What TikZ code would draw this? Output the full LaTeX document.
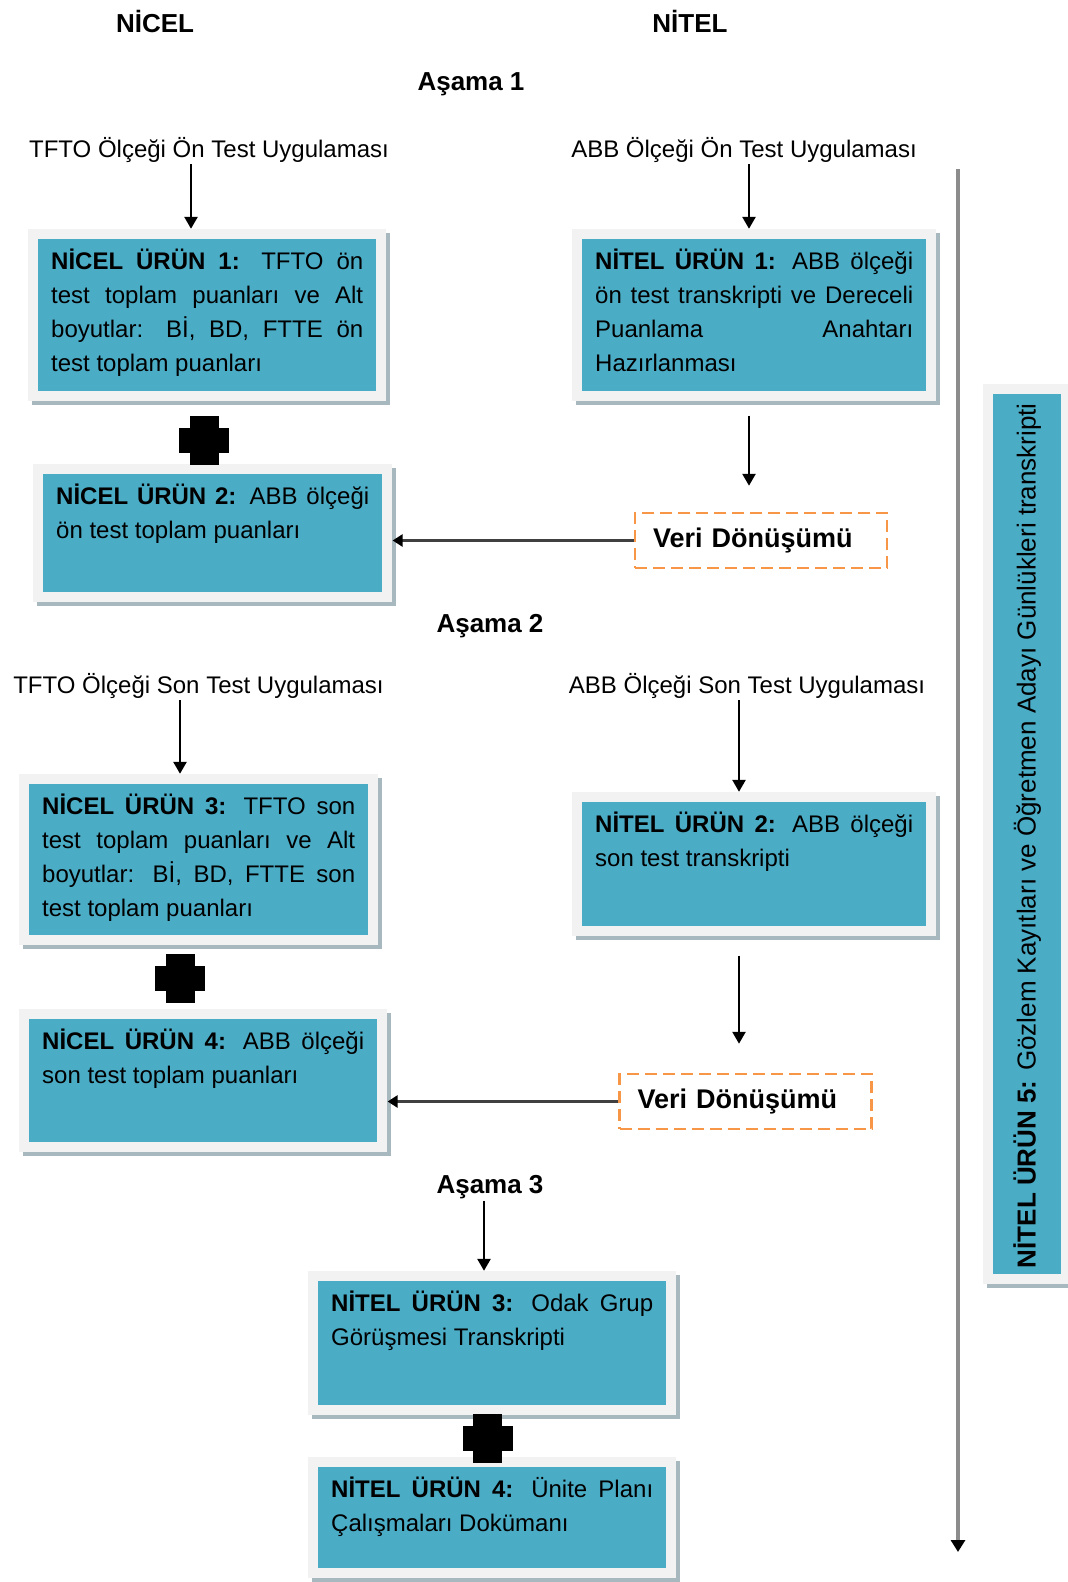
\documentclass[tikz,border=0pt]{standalone}
\usepackage{fontspec}
\usepackage{graphicx}
\setmainfont{Liberation Sans}
\usetikzlibrary{arrows.meta,backgrounds,fit,shadows}

\definecolor{boxteal}{HTML}{4BACC6}
\definecolor{boxframe}{HTML}{F2F2F2}
\definecolor{boxshadow}{HTML}{A7B9BF}
\definecolor{dashorange}{HTML}{F79646}
\definecolor{sidegray}{HTML}{8C8C8C}

% one justified line inside a product box
\newcommand\jl[1]{\makebox[\linewidth][s]{#1}\\}
% text block of a product box: width, height, lines
\newcommand\prodtext[3]{\parbox[t][#2][t]{#1}{\rule{0pt}{30pt}#3}}

\tikzset{
  prod/.style={fill=boxteal, inner xsep=13pt, inner ysep=0pt, anchor=north west,
    font=\fontsize{24}{34}\selectfont},
  prodframe/.style={fill=boxframe, inner sep=10pt,
    drop shadow={shadow xshift=4pt, shadow yshift=-4pt, fill=boxshadow, opacity=1}},
  lbl/.style={font=\fontsize{24}{28}\selectfont, inner sep=2pt, anchor=base},
  hdr/.style={font=\bfseries\fontsize{26}{30}\selectfont, inner sep=2pt, anchor=base},
  conv/.style={draw=dashorange, line width=2.5pt, dash pattern=on 12pt off 6pt,
    font=\bfseries\fontsize{27}{30}\selectfont, minimum width=252pt, minimum height=55pt,
    text width=216pt, inner xsep=18pt, align=left},
  arr/.style={draw=black, line width=2.6pt, -{Triangle[width=13pt,length=12pt]}},
  harr/.style={draw=black!75, line width=3pt, -{Triangle[width=12pt,length=10pt,color=black]}},
  garr/.style={draw=sidegray, line width=4pt, -{Triangle[width=14pt,length=12pt,color=black]}},
  pics/plus/.style={code={
    \fill (-14.5,-24.5) rectangle (14.5,24.5);
    \fill (-25,-12.5) rectangle (25,12.5);}}
}

\begin{document}
\begin{tikzpicture}[x=1pt,y=-1pt]
\useasboundingbox (0,0) rectangle (1068,1582);

% column and stage headings
\node[hdr] (hnicel) at (155,32) {NİCEL};
\node[hdr] (hnitel) at (690,32) {NİTEL};
\node[hdr] (as1) at (471,90) {Aşama 1};
\node[hdr] (as2) at (490,632) {Aşama 2};
\node[hdr] (as3) at (490,1193) {Aşama 3};

% test applications
\node[lbl] (tl1) at (209,157) {TFTO Ölçeği Ön Test Uygulaması};
\node[lbl] (tr1) at (744,157) {ABB Ölçeği Ön Test Uygulaması};
\node[lbl] (tl2) at (198.5,693) {TFTO Ölçeği Son Test Uygulaması};
\node[lbl] (tr2) at (747,693) {ABB Ölçeği Son Test Uygulaması};

% products
\node[prod] (nc1) at (38,239) {\prodtext{312pt}{152pt}{%
  \jl{\textbf{NİCEL ÜRÜN 1:} TFTO ön}
  \jl{test toplam puanları ve Alt}
  \jl{boyutlar: Bİ, BD, FTTE ön}
  test toplam puanları}};
\node[prod] (nt1) at (582,239) {\prodtext{318pt}{152pt}{%
  \jl{\textbf{NİTEL ÜRÜN 1:} ABB ölçeği}
  \jl{ön test transkripti ve Dereceli}
  \jl{Puanlama Anahtarı}
  Hazırlanması}};
\node[prod] (nc2) at (43,474) {\prodtext{313pt}{118pt}{%
  \jl{\textbf{NİCEL ÜRÜN 2:} ABB ölçeği}
  ön test toplam puanları}};
\node[prod] (nc3) at (29,784) {\prodtext{313pt}{151pt}{%
  \jl{\textbf{NİCEL ÜRÜN 3:} TFTO son}
  \jl{test toplam puanları ve Alt}
  \jl{boyutlar: Bİ, BD, FTTE son}
  test toplam puanları}};
\node[prod] (nt2) at (582,802) {\prodtext{318pt}{124pt}{%
  \jl{\textbf{NİTEL ÜRÜN 2:} ABB ölçeği}
  son test transkripti}};
\node[prod] (nc4) at (29,1019) {\prodtext{322pt}{123pt}{%
  \jl{\textbf{NİCEL ÜRÜN 4:} ABB ölçeği}
  son test toplam puanları}};
\node[prod] (nt3) at (318,1281) {\prodtext{322pt}{124pt}{%
  \jl{\textbf{NİTEL ÜRÜN 3:} Odak Grup}
  Görüşmesi Transkripti}};
\node[prod] (nt4) at (318,1467) {\prodtext{322pt}{101pt}{%
  \jl{\textbf{NİTEL ÜRÜN 4:} Ünite Planı}
  Çalışmaları Dokümanı}};
\node[fill=boxteal, inner sep=0pt, minimum width=68pt, minimum height=880pt, anchor=north west]
  (nt5) at (993,394) {\rotatebox{90}{\makebox[868pt][l]{\fontsize{26}{30}\selectfont
    \textbf{NİTEL ÜRÜN 5:} Gözlem Kayıtları ve Öğretmen Adayı Günlükleri transkripti}}\hspace{14pt}};

% data conversion steps
\node[conv] (veri1) at (761,540.5) {Veri Dönüşümü};
\node[conv] (veri2) at (745.5,1101.5) {Veri Dönüşümü};

% light frames with shadow behind the products
\begin{scope}[on background layer]
  \foreach \n in {nc1,nt1,nc2,nc3,nt2,nc4,nt3,nt4,nt5}
    \node[prodframe, fit=(\n)] (\n f) {};
\end{scope}

% joining symbols
\pic at (204,440.5) {plus};
\pic at (180,978.5) {plus};
\pic at (487.5,1438.5) {plus};

% flow arrows
\coordinate (c1) at ([xshift=-18pt]tl1.south);
\coordinate (c2) at ([xshift=5pt]tr1.south);
\coordinate (c3) at ([xshift=-18.5pt]tl2.south);
\coordinate (c4) at ([xshift=-8pt]tr2.south);
\coordinate (c5) at ([xshift=-6pt]as3.south);

\draw[arr] (c1) -- (c1 |- nc1f.north);
\draw[arr] (c2) -- (c2 |- nt1f.north);
\draw[arr, shorten <=14pt, shorten >=26pt] (c2 |- nt1f.south) -- (c2 |- veri1.north);
\draw[harr] (veri1.west) -- (veri1.west -| nc2f.east);

\draw[arr] (c3) -- (c3 |- nc3f.north);
\draw[arr] (c4) -- (c4 |- nt2f.north);
\draw[arr, shorten <=19pt, shorten >=29pt] (c4 |- nt2f.south) -- (c4 |- veri2.north);
\draw[harr] (veri2.west) -- (veri2.west -| nc4f.east);

\draw[arr] (c5) -- (c5 |- nt3f.north);

% time line along the whole process
\coordinate (stop) at (958,169);
\coordinate (sbot) at (958,1552);
\draw[garr] (stop) -- (sbot);
\end{tikzpicture}
\end{document}
